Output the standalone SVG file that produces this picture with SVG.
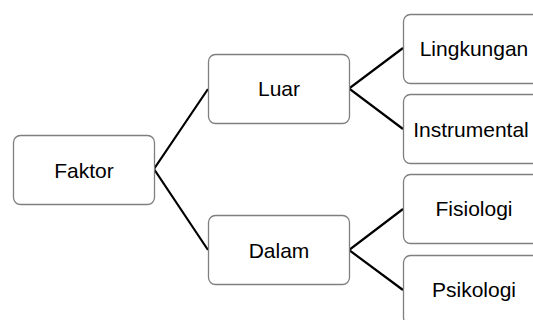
<svg xmlns="http://www.w3.org/2000/svg" width="533" height="320" viewBox="0 0 533 320">
<style>
.box{fill:#ffffff;stroke:#7f7f7f;stroke-width:1.3}
.lbl{font-family:"Liberation Sans",Arial,sans-serif;font-size:21px;fill:#000000;text-anchor:middle}
.con{stroke:#000000;stroke-width:2.2;fill:none;stroke-linecap:butt;stroke-linejoin:miter}
</style>
<rect width="533" height="320" fill="#ffffff"/>
<g id="connectors">
<polyline class="con" points="208,89 154,169 208,250"/>
<polyline class="con" points="403,48 349,88.5 403,129"/>
<polyline class="con" points="403,209 349,250 403,290"/>
</g>
<g id="faktor">
<rect class="box" x="13.5" y="135.5" width="141" height="69" rx="7"/>
<text class="lbl" x="84" y="177.5">Faktor</text>
</g>
<g id="luar">
<rect class="box" x="208.5" y="54.5" width="141" height="69" rx="7"/>
<text class="lbl" x="279" y="96">Luar</text>
</g>
<g id="dalam">
<rect class="box" x="208.5" y="215.5" width="141" height="69" rx="7"/>
<text class="lbl" x="279" y="257.5">Dalam</text>
</g>
<g id="lingkungan">
<rect class="box" x="403.5" y="14.5" width="141" height="69" rx="7"/>
<text class="lbl" x="474" y="56">Lingkungan</text>
</g>
<g id="instrumental">
<rect class="box" x="403.5" y="94.5" width="141" height="69" rx="7"/>
<text class="lbl" x="471" y="136.5">Instrumental</text>
</g>
<g id="fisiologi">
<rect class="box" x="403.5" y="174.5" width="141" height="69" rx="7"/>
<text class="lbl" x="474" y="216">Fisiologi</text>
</g>
<g id="psikologi">
<rect class="box" x="403.5" y="255.5" width="141" height="69" rx="7"/>
<text class="lbl" x="474" y="297">Psikologi</text>
</g>
</svg>
